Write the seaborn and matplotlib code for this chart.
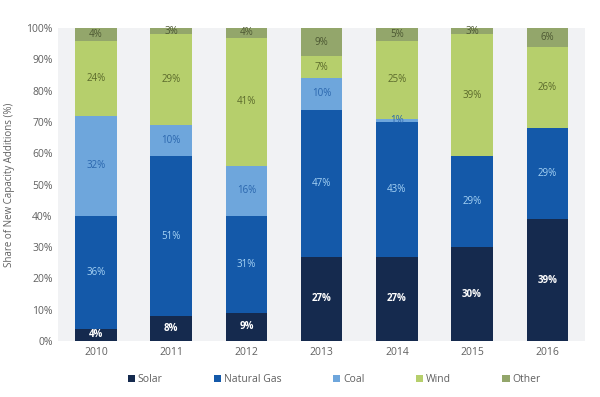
import matplotlib

matplotlib.use("Agg")
import matplotlib.pyplot as plt
import numpy as np
import pandas as pd
import seaborn as sns
from matplotlib.patches import Patch

YEARS = ["2010", "2011", "2012", "2013", "2014", "2015", "2016"]
SERIES = ["Solar", "Natural Gas", "Coal", "Wind", "Other"]

SOLAR = [4, 8, 9, 27, 27, 30, 39]
NATURAL_GAS = [36, 51, 31, 47, 43, 29, 29]
COAL = [32, 10, 16, 10, 1, 0, 0]
WIND = [24, 29, 41, 7, 25, 39, 26]
OTHER = [4, 3, 4, 9, 5, 3, 6]

COLORS = ["#152a4e", "#1459a9", "#6ea6dc", "#b6cf6c", "#93a66b"]
LABEL_COLORS = ["white", "#a6d3f5", "#2a66ad", "#5b6a2c", "#4d5833"]


def build_frame() -> pd.DataFrame:
    df = pd.DataFrame(
        {"year": YEARS, "Solar": SOLAR, "Natural Gas": NATURAL_GAS,
         "Coal": COAL, "Wind": WIND, "Other": OTHER}
    )
    return df


def main() -> None:
    sns.set_theme(style="white")
    plt.rcParams["font.family"] = ["Open Sans", "DejaVu Sans"]

    df = build_frame()
    cum = df[SERIES].cumsum(axis=1)

    fig = plt.figure(figsize=(6, 3.97), dpi=100)
    ax = fig.add_axes([0.097, 0.141, 0.878, 0.788])
    ax.set_facecolor("#f1f2f4")

    # barras apiladas: se dibuja primero el acumulado mas alto
    for i in range(len(SERIES) - 1, -1, -1):
        tmp = pd.DataFrame({"year": YEARS, "value": cum[SERIES[i]].clip(upper=100)})
        sns.barplot(data=tmp, x="year", y="value", color=COLORS[i],
                    width=0.55, saturation=1, ax=ax, linewidth=0)

    # etiquetas de porcentaje
    for j, year in enumerate(YEARS):
        bottom = 0
        for i, s in enumerate(SERIES):
            v = df.loc[j, s]
            top = min(bottom + v, 100)
            if v > 0:
                bold = "bold" if s == "Solar" else "normal"
                ax.text(j, (bottom + top) / 2, f"{v}%", ha="center", va="center",
                        fontsize=7, color=LABEL_COLORS[i], fontweight=bold)
            bottom += v

    ax.set_ylim(0, 100)
    ax.set_xlim(-0.5, len(YEARS) - 0.5)
    ax.set_yticks(np.arange(0, 101, 10))
    ax.set_yticklabels([f"{t}%" for t in range(0, 101, 10)])
    ax.tick_params(axis="both", labelsize=7.5, colors="#606060", length=0, pad=4)
    ax.set_xlabel("")
    ax.set_ylabel("Share of New Capacity Additions (%)", fontsize=7, color="#606060")
    ax.yaxis.set_label_coords(-0.082, 0.5)
    for sp in ax.spines.values():
        sp.set_visible(False)

    handles = [Patch(facecolor=c, edgecolor="none", label=s) for s, c in zip(SERIES, COLORS)]
    leg = fig.legend(handles=handles, loc="center", bbox_to_anchor=(0.557, 0.043), ncol=5,
                     frameon=False, fontsize=7.5, handlelength=0.7, handleheight=0.7,
                     handletextpad=0.3, columnspacing=4.9)
    for t in leg.get_texts():
        t.set_color("#606060")

    fig.savefig("out.png", dpi=100)
    plt.close(fig)


if __name__ == "__main__":
    main()
